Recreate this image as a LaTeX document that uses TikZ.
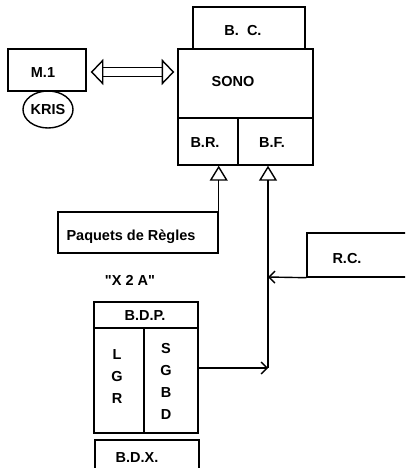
\documentclass[tikz,border=0pt]{standalone}
\usepackage{fontspec}
\setmainfont{Liberation Sans}
\newfontfamily\plainq{Liberation Sans}
\usetikzlibrary{arrows.meta,shapes.geometric,calc}
\tikzset{
  box/.style 2 args={draw, rectangle, minimum width=#1, minimum height=#2, inner sep=0pt},
  lbl/.style={font=\bfseries\fontsize{14.5}{15}\selectfont, inner sep=0pt},
  tri/.style={-{Triangle[open,length=15pt,width=18pt,line width=1.4pt]}},
  barb/.style={-{Straight Barb[length=6pt,width=12pt,line width=1.4pt]}},
}
\begin{document}
\begin{tikzpicture}[x=1pt,y=-1pt,line width=1.4pt]
\fill[white] (0,0) rectangle (405,468);
\useasboundingbox (0,0) rectangle (405,468);
\clip (0,0) rectangle (405,468);

% left module
\node[box={78pt}{42pt}] (m1) at (47,70) {};
\node[lbl] (m1t) at (43,73) {M.1};
\node[draw, ellipse, minimum width=50pt, minimum height=37pt, inner sep=0pt] (kris) at (48,109.5) {};
\node[lbl] (krist) at (48,110) {KRIS};

% central block
\node[box={112pt}{42pt}] (bc) at (249,28) {};
\node[lbl] (bct) at (243,31) {B.\ \ C.};
\node[box={135pt}{69pt}] (sono) at (245.5,83.5) {};
\node[lbl] (sonot) at (233,82) {SONO};
\node[box={60pt}{47pt}] (br) at (208,141.5) {};
\node[lbl] (brt) at (205,143) {B.R.};
\node[box={75pt}{47pt}] (bf) at (275.5,141.5) {};
\node[lbl] (bft) at (272,143) {B.F.};

% double arrow between M.1 and SONO
\coordinate (da) at ($(m1.east)+(5,2)$);
\coordinate (db) at ($(sono.west)+(-4,-11.5)$);
\draw (da) -- ++(11,-11.5) -- ++(0,23) -- cycle;
\draw (db) -- ++(-11,-11.5) -- ++(0,23) -- cycle;
\draw ($(da)+(11,-4.5)$) -- ($(db)+(-11,-4.5)$);
\draw ($(da)+(11,4.5)$) -- ($(db)+(-11,4.5)$);

% rule packages
\node[box={160pt}{41pt}] (paq) at (138,232.5) {};
\node[lbl] (paqt) at (131,237) {Paquets de Règles};
\draw[tri] (paq.north east) -- (paq.north east |- br.south);

% R.C.
\node[box={120pt}{44pt}] (rc) at (367,255) {};
\node[lbl] (rct) at (347,259) {R.C.};

% X2A
\node[lbl] (x2a) at (130,280) {\plainq\bfseries "X 2 A"};
\node[box={104pt}{26pt}] (bdp) at (146,315) {};
\node[lbl] (bdpt) at (145,316) {B.D.P.};
\node[box={104pt}{105pt}] (main) at (146,380.5) {};
\draw (144,328) -- (144,433);
\node[lbl, align=center] (lgr) at (117,377) {L\\[7pt]G\\[7pt]R};
\node[lbl, align=center] (sgbd) at (166,381.5) {S\\[7pt]G\\[7pt]B\\[7pt]D};
\node[box={104pt}{40pt}] (bdx) at (147,460) {};
\node[lbl] (bdxt) at (137,458) {B.D.X.};

% connectors
\coordinate (j1) at (268,368);
\coordinate (j2) at (268,277);
\draw[barb] (main.east |- j1) -- (j1);
\draw[tri] (j1) -- (j1 |- bf.south);
\draw[barb] (rc.south west) -- (j2);
\end{tikzpicture}
\end{document}
